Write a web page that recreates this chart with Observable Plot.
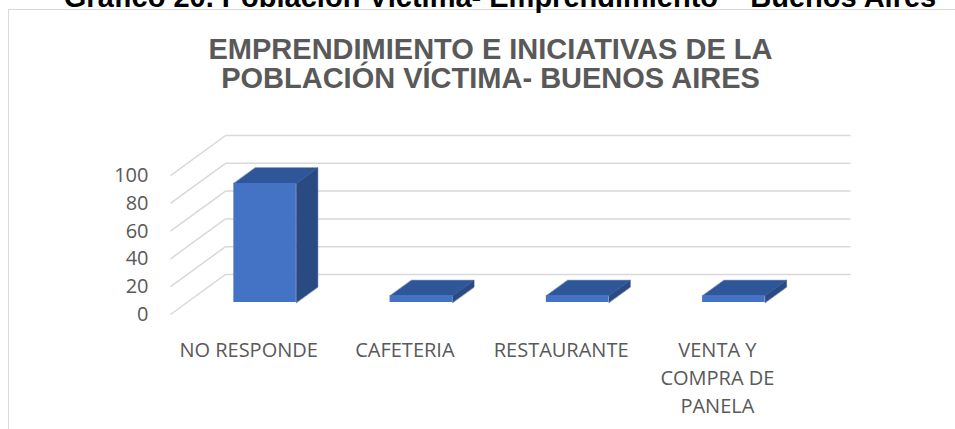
<!DOCTYPE html>
<html><head><meta charset="utf-8">
<script src="https://cdn.jsdelivr.net/npm/d3@7"></script>
<script src="https://cdn.jsdelivr.net/npm/@observablehq/plot@0.6"></script>
<style>
html,body{margin:0;padding:0;background:#fff;overflow:hidden}
#wrap{position:relative;width:955px;height:429px;overflow:hidden;background:#fff}
#frame{position:absolute;left:8px;top:9px;width:1000px;height:500px;border:1px solid #d9d9d9;box-sizing:border-box}
#doctitle{position:absolute;left:0;width:1000px;top:-17px;text-align:center;font:bold 29px/29px "Liberation Sans",Arial,sans-serif;color:#000;white-space:nowrap}
#title{position:absolute;left:0;width:981px;top:35px;text-align:center;font:bold 29px/29px "Liberation Sans",Arial,sans-serif;color:#595959;white-space:nowrap}
#chart{position:absolute;left:0;top:0}
</style></head>
<body><div id="wrap">
<div id="frame"></div>
<div id="doctitle">Gráfico 20. Población Víctima- Emprendimiento – Buenos Aires</div>
<div id="title">EMPRENDIMIENTO E INICIATIVAS DE LA<br>POBLACIÓN VÍCTIMA- BUENOS AIRES</div>
<div id="chart"></div>
</div>
<script>
const categories = ["NO RESPONDE", "CAFETERIA", "RESTAURANTE", "VENTA Y\nCOMPRA DE\nPANELA"];
const values = [85.7, 4.8, 4.8, 4.8];
const yTicks = [0, 20, 40, 60, 80, 100];

// oblique 3D projection: depth offsets expressed in data units
const DX = 0.352, DY = 28.8;
const D0 = 0.3, D1 = 0.69, BW = 0.4;
const n = categories.length;
const ddx = (D1 - D0) * DX, ddy = (D1 - D0) * DY;

const bars = categories.map((c, i) => ({
  c, v: values[i],
  x1: i + 0.5 - BW / 2 + D0 * DX,
  x2: i + 0.5 + BW / 2 + D0 * DX,
  y0: D0 * DY,
  yv: values[i] + D0 * DY
}));
const topPts = bars.flatMap(b => [[b.x1, b.yv], [b.x2, b.yv], [b.x2 + ddx, b.yv + ddy], [b.x1 + ddx, b.yv + ddy]].map(([x, y]) => ({c: b.c, x, y})));
const sidePts = bars.flatMap(b => [[b.x2, b.y0], [b.x2, b.yv], [b.x2 + ddx, b.yv + ddy], [b.x2 + ddx, b.y0 + ddy]].map(([x, y]) => ({c: b.c, x, y})));

const chart = Plot.plot({
  width: 955, height: 429,
  marginLeft: 170, marginRight: 105, marginTop: 135, marginBottom: 115,
  x: {domain: [0, n + DX]},
  y: {domain: [0, 100 + DY]},
  style: {background: "transparent", color: "#595959", fontFamily: "'Open Sans', sans-serif", fontSize: "20px", overflow: "visible"},
  marks: [
    Plot.link(yTicks, {x1: () => 0, y1: d => d, x2: () => DX, y2: d => d + DY, stroke: "#d9d9d9", strokeWidth: 1.5}),
    Plot.link(yTicks, {x1: () => DX, y1: d => d + DY, x2: () => n + DX, y2: d => d + DY, stroke: "#d9d9d9", strokeWidth: 1.5}),
    Plot.line(sidePts, {x: "x", y: "y", z: "c", curve: "linear-closed", fill: "#2a4a82", stroke: "#2a4a82", strokeWidth: 0.5}),
    Plot.line(topPts, {x: "x", y: "y", z: "c", curve: "linear-closed", fill: "#30569a", stroke: "#30569a", strokeWidth: 0.5}),
    Plot.rect(bars, {x1: "x1", x2: "x2", y1: "y0", y2: "yv", fill: "#4472c4"}),
    Plot.axisY(yTicks, {tickSize: 0, tickPadding: 22, fontSize: 20, label: null}),
    Plot.axisX(categories.map((_, i) => i + 0.5), {tickSize: 0, tickPadding: 23, fontSize: 20, lineHeight: 1.4, label: null, tickFormat: d => categories[Math.floor(d)]})
  ]
});
document.getElementById("chart").appendChild(chart);
</script>
</body></html>
